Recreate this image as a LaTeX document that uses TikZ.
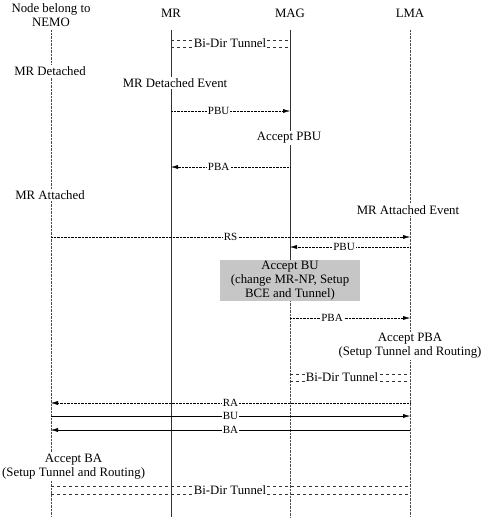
\documentclass[tikz,border=0pt]{standalone}
\usepackage{fontspec}
\setmainfont{Liberation Serif}
\usepackage{tikz}
\usetikzlibrary{arrows.meta,positioning}
\tikzstyle{msg} = [draw, densely dotted, -{Latex[length=7pt,width=4pt]}]
\tikzstyle{msgsolid} = [draw, -{Latex[length=7pt,width=4pt]}]
\tikzstyle{life} = [draw, densely dotted, black!70]

\begin{document}
\begin{tikzpicture}[x=1pt,y=-1pt,font=\fontsize{12.8}{14}\selectfont]
\tikzstyle{ann} = [fill=white,inner sep=1pt,align=center]
\tikzstyle{lbl} = [fill=white,inner sep=1pt,font=\fontsize{11}{12}\selectfont]
\tikzstyle{tunnel} = [draw, dashed, black!80]
\tikzstyle{graybox} = [fill=gray!45,inner sep=1pt,align=center,minimum width=140pt,minimum height=37pt]
\useasboundingbox (0,0) rectangle (492,524);
\node[align=center] (nemo) at (51,15) {Node belong to\\NEMO};
\node (mr) at (171,13) {MR};
\node (mag) at (290,13) {MAG};
\node (lma) at (410,13) {LMA};
% lifelines
\draw[life] (nemo |- 0,30) -- (nemo |- 0,517);
\draw[black!80] (mr |- 0,30) -- (mr |- 0,517);
\draw[black!80] (mag |- 0,30) -- (mag |- 0,262);
\draw[life] (mag |- 0,262) -- (mag |- 0,517);
\draw[life] (lma |- 0,30) -- (lma |- 0,517);
% MR detaches
\draw[tunnel] (mr |- 0,40) -- (mag |- 0,40);
\draw[tunnel] (mr |- 0,47) -- (mag |- 0,47);
\node[ann] (tun1) at (230,43.5) {Bi-Dir Tunnel};
\node[ann] (mrdet) at (50,71) {MR Detached};
\node[ann] (mrdetev) at (175,83) {MR Detached Event};
\path[msg] (mr |- 0,111) -- node[lbl,pos=0.4] (pbu1) {PBU} (mag |- 0,111);
\node[ann] (accpbu) at (289,138) {Accept PBU};
\path[msg] (mag |- 0,167) -- node[lbl,pos=0.6] (pba1) {PBA} (mr |- 0,167);
% MR attaches
\node[ann] (mratt) at (50,195) {MR Attached};
\node[ann] (mrattev) at (408,210) {MR Attached Event};
\path[msg] (nemo |- 0,237) -- node[lbl] (rs) {RS} (lma |- 0,237);
\path[msg] (lma |- 0,247) -- node[lbl,pos=0.55] (pbu2) {PBU} (mag |- 0,247);
\node[graybox] (accbu) at (290,280.5) {Accept BU\\(change MR-NP, Setup\\BCE and Tunnel)};
\path[msg] (mag |- 0,318) -- node[lbl,pos=0.35] (pba2) {PBA} (lma |- 0,318);
\node[ann] (accpba) at (410,346) {Accept PBA\\(Setup Tunnel and Routing)};
\draw[tunnel] (mag |- 0,374) -- (lma |- 0,374);
\draw[tunnel] (mag |- 0,381) -- (lma |- 0,381);
\node[ann] (tun2) at (342,377.5) {Bi-Dir Tunnel};
\path[msg] (lma |- 0,403) -- node[lbl] (ra) {RA} (nemo |- 0,403);
\path[msgsolid] (nemo |- 0,416) -- node[lbl] (bu) {BU} (lma |- 0,416);
\path[msgsolid] (lma |- 0,430) -- node[lbl] (ba) {BA} (nemo |- 0,430);
\node[ann,anchor=west] (accba) at (1,467) {Accept BA\\(Setup Tunnel and Routing)};
\draw[tunnel] (nemo |- 0,486) -- (lma |- 0,486);
\draw[tunnel] (nemo |- 0,494) -- (lma |- 0,494);
\node[ann] (tun3) at (230,490) {Bi-Dir Tunnel};
\end{tikzpicture}
\end{document}
